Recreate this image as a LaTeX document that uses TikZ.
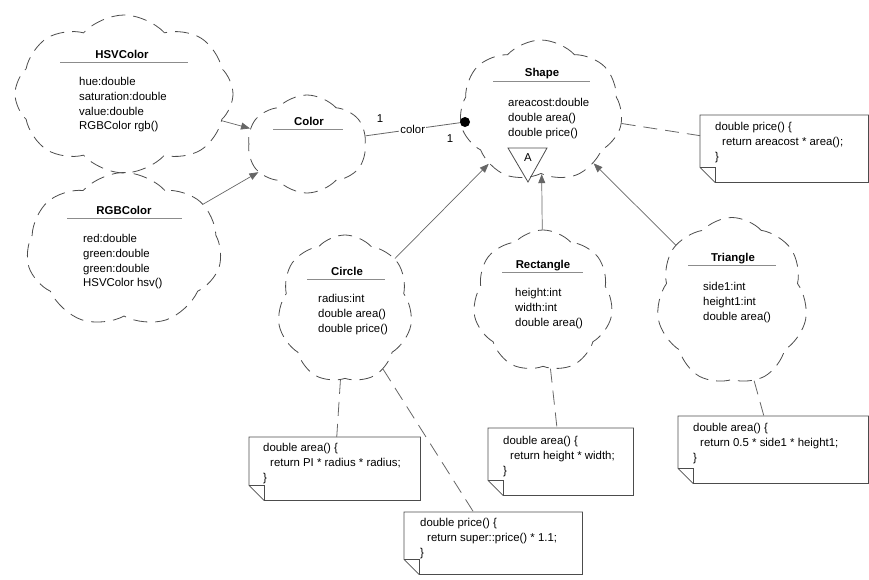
\documentclass[tikz,border=0pt]{standalone}
\usepackage{fontspec}
\setmainfont{Liberation Sans}
\usetikzlibrary{shapes.symbols, arrows.meta, calc}

\newcommand{\diafont}{\fontsize{11.4}{14.8}\selectfont}

\tikzset{
	classcloud/.style = {cloud, cloud puffs = 7, cloud puff arc = 95, cloud ignores aspect,
		draw = black!70, line width = 0.8pt, dash pattern = on 14pt off 8pt, inner sep = 0pt},
	classname/.style = {font = \diafont\bfseries, anchor = base, inner sep = 0pt},
	memberlist/.style = {font = \diafont, align = left, anchor = north west, inner sep = 0pt},
	titlerule/.style = {draw = black!45, line width = 0.8pt},
	notebox/.style = {rectangle, anchor = north west, inner sep = 0pt},
	noteline/.style = {draw = black!70, line width = 0.8pt},
	notelink/.style = {draw = black!60, line width = 0.8pt, dash pattern = on 14pt off 8pt},
	genarrow/.style = {draw = black!60, line width = 0.7pt, -{Triangle[length = 9pt, width = 7pt]}},
	assoc/.style = {draw = black!60, line width = 0.8pt}
}

\begin{document}
\begin{tikzpicture}[x = 1pt, y = -1pt, every node/.style = {font = \diafont}]
	\useasboundingbox (0,0) rectangle (869,579);
	
	% clouds of the classes
	\node [classcloud, cloud puffs = 8, minimum width = 218pt, minimum height = 158pt] (hsv) at (124,94) {};
	\node [classcloud, cloud puffs = 6, minimum width = 119pt, minimum height = 98pt] (col) at (307,144) {};
	\node [classcloud, minimum width = 163pt, minimum height = 142pt] (shp) at (541,111) {};
	\node [classcloud, minimum width = 195pt, minimum height = 155pt] (rgb) at (124,250) {};
	\node [classcloud, minimum width = 135pt, minimum height = 148pt] (circ) at (345,309) {};
	\node [classcloud, minimum width = 140pt, minimum height = 142pt] (rect) at (543,301) {};
	\node [classcloud, minimum width = 151pt, minimum height = 167pt] (tri) at (732,301) {};
	
	% HSVColor
	\node [classname] (hsv-name) at (122,58) {HSVColor};
	\draw [titlerule] (60,62) -- (188,62);
	\node [memberlist] (hsv-members) at (79,77) {hue:double\\ saturation:double\\ value:double\\ RGBColor rgb()};
	
	% Color
	\node [classname] (col-name) at (309,125) {Color};
	\draw [titlerule] (273,129) -- (343,129);
	
	% Shape
	\node [classname] (shp-name) at (542,76) {Shape};
	\draw [titlerule] (493,81) -- (590,81);
	\node [memberlist] (shp-members) at (508,98) {areacost:double\\ double area()\\ double price()};
	\draw [noteline] (508,148) -- (547,148) -- (528,182) -- cycle;
	\node (shp-abstract) at (528,158) {A};
	
	% RGBColor
	\node [classname] (rgb-name) at (124,214) {RGBColor};
	\draw [titlerule] (67,218) -- (182,218);
	\node [memberlist] (rgb-members) at (83,234) {red:double\\ green:double\\ green:double\\ HSVColor hsv()};
	
	% Circle
	\node [classname] (circ-name) at (347,275) {Circle};
	\draw [titlerule] (307,279) -- (385,279);
	\node [memberlist] (circ-members) at (318,294) {radius:int\\ double area()\\ double price()};
	
	% Rectangle
	\node [classname] (rect-name) at (543,268) {Rectangle};
	\draw [titlerule] (502,272) -- (583,272);
	\node [memberlist] (rect-members) at (515,288) {height:int\\ width:int\\ double area()};
	
	% Triangle
	\node [classname] (tri-name) at (733,261) {Triangle};
	\draw [titlerule] (688,265) -- (776,265);
	\node [memberlist] (tri-members) at (703,282) {side1:int\\ height1:int\\ double area()};
	
	% notes
	\node [notebox, minimum width = 168pt, minimum height = 67pt] (pnote) at (700,115) {};
	\node [notebox, minimum width = 171pt, minimum height = 63pt] (cnote) at (249,437) {};
	\node [notebox, minimum width = 178pt, minimum height = 62pt] (prnote) at (404,512) {};
	\node [notebox, minimum width = 145pt, minimum height = 67pt] (rnote) at (488,428) {};
	\node [notebox, minimum width = 190pt, minimum height = 67pt] (tnote) at (678,416) {};
	
	\foreach \n in {pnote, cnote, prnote, rnote, tnote} {
		\draw [noteline] (\n.north west) -- (\n.north east) -- (\n.south east)
			-- ($(\n.south west) + (15,0)$) -- ($(\n.south west) + (0,-15)$) -- cycle;
		\draw [noteline] ($(\n.south west) + (0,-15)$) -- ($(\n.south west) + (15,-15)$) -- ($(\n.south west) + (15,0)$);
	}
	
	\node [memberlist] (pnote-text) at (715,122) {double price() \{\\ \hspace*{7pt}return areacost * area();\\ \}};
	\node [memberlist] (cnote-text) at (263,443) {double area() \{\\ \hspace*{7pt}return PI * radius * radius;\\ \}};
	\node [memberlist] (prnote-text) at (420,518) {double price() \{\\ \hspace*{7pt}return super::price() * 1.1;\\ \}};
	\node [memberlist] (rnote-text) at (503,436) {double area() \{\\ \hspace*{7pt}return height * width;\\ \}};
	\node [memberlist] (tnote-text) at (693,423) {double area() \{\\ \hspace*{7pt}return 0.5 * side1 * height1;\\ \}};
	
	% relations
	\draw [genarrow] (hsv) -- (col);
	\draw [genarrow] (rgb) -- (col);
	
	\node [circle, fill = black, inner sep = 0pt, minimum size = 10pt] (agg) at (465,122) {};
	\draw [assoc] (col) -- node [fill = white, inner sep = 1pt] (assoc-name) {color} (agg);
	\node (assoc-one-a) at (380,119) {1};
	\node (assoc-one-b) at (450,139) {1};
	
	\draw [genarrow] (circ) -- (shp);
	\draw [genarrow] (rect) -- (shp);
	\draw [genarrow] (tri) -- (shp);
	
	\draw [notelink] (shp) -- (pnote);
	\draw [notelink] (circ) -- (cnote);
	\draw [notelink] (circ) -- (prnote);
	\draw [notelink] (rect) -- (rnote);
	\draw [notelink] (tri) -- (tnote);
\end{tikzpicture}
\end{document}
